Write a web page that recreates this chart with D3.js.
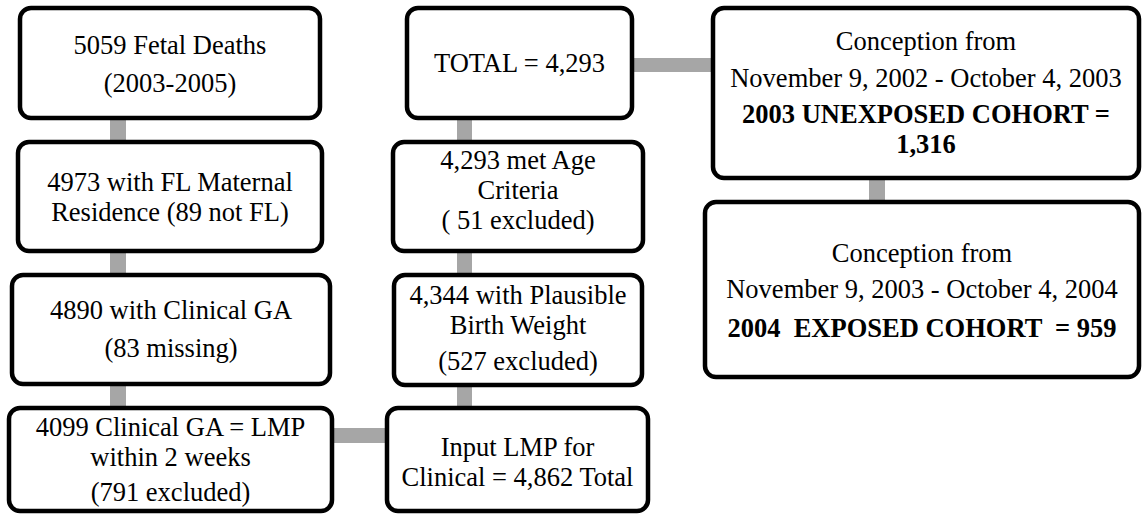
<!DOCTYPE html>
<meta charset="utf-8">
<style>
body { margin: 0; background: #fff; }
.box { fill: #fff; stroke: #000; stroke-width: 4.5px; }
.link { fill: #a6a6a6; }
text { font-family: "Liberation Serif", "Times New Roman", serif; font-size: 26.5px; fill: #000; white-space: pre; }
.bold { font-weight: bold; }
</style>
<body>
<script src="https://d3js.org/d3.v7.min.js"></script>
<script>

// box texts (one entry per line, "*" marks a bold line)
let fetalDeaths   = ["5059 Fetal Deaths", "(2003-2005)"];
let flResidence   = ["4973 with FL Maternal", "Residence (89 not FL)"];
let clinicalGA    = ["4890 with Clinical GA", "(83 missing)"];
let gaEqualsLmp   = ["4099 Clinical GA = LMP", "within 2 weeks", "(791 excluded)"];
let inputLmp      = ["Input LMP for", "Clinical = 4,862 Total"];
let birthWeight   = ["4,344 with Plausible", "Birth Weight", "(527 excluded)"];
let ageCriteria   = ["4,293 met Age", "Criteria", "( 51 excluded)"];
let totalCount    = ["TOTAL = 4,293"];
let unexposed     = ["Conception from", "November 9, 2002 - October 4, 2003", "*2003 UNEXPOSED COHORT =", "*1,316"];
let exposed       = ["Conception from", "November 9, 2003 - October 4, 2004", "*2004  EXPOSED COHORT  = 959"];

// layout: box rectangles and baseline offsets of each line
let layout = [
    {lines: fetalDeaths, x0: 20,  x1: 320, y0: 8,   y1: 118, base: [46, 84]},
    {lines: flResidence, x0: 18,  x1: 322, y0: 142, y1: 251, base: [49, 79]},
    {lines: clinicalGA,  x0: 12,  x1: 330, y0: 275, y1: 384, base: [44, 82]},
    {lines: gaEqualsLmp, x0: 9,   x1: 332, y0: 408, y1: 511, base: [28, 58, 93]},
    {lines: inputLmp,    x0: 387, x1: 648, y0: 408, y1: 511, base: [48, 78]},
    {lines: birthWeight, x0: 394, x1: 642, y0: 275, y1: 385, base: [29, 59, 95]},
    {lines: ageCriteria, x0: 393, x1: 643, y0: 142, y1: 251, base: [27, 57, 87]},
    {lines: totalCount,  x0: 407, x1: 632, y0: 8,   y1: 118, base: [64]},
    {lines: unexposed,   x0: 713, x1: 1139, y0: 8,  y1: 178, base: [42, 79, 115, 145]},
    {lines: exposed,     x0: 705, x1: 1139, y0: 202, y1: 377, base: [60, 96, 135]}
];

// grey connector bars [x0, y0, x1, y1]
let links = [
    [110, 118, 126, 142],
    [110, 251, 126, 275],
    [110, 384, 126, 408],
    [332, 428, 387, 443],
    [457, 385, 472, 408],
    [457, 251, 472, 275],
    [457, 118, 472, 142],
    [632, 58, 713, 72],
    [869, 178, 885, 202]
];

let width = 1142, height = 514;

let svg = d3.select("body").append("svg")
    .attr("width", width)
    .attr("height", height);

svg.selectAll("rect.link").data(links)
    .enter().append("rect")
    .attr("class", "link")
    .attr("x", d => d[0])
    .attr("y", d => d[1])
    .attr("width", d => d[2] - d[0])
    .attr("height", d => d[3] - d[1]);

let boxes = svg.selectAll("g.node").data(layout)
    .enter().append("g")
    .attr("class", "node");

boxes.append("rect")
    .attr("class", "box")
    .attr("x", d => d.x0)
    .attr("y", d => d.y0)
    .attr("width", d => d.x1 - d.x0)
    .attr("height", d => d.y1 - d.y0)
    .attr("rx", 11)
    .attr("ry", 11);

boxes.each(function (d) {
    let g = d3.select(this);
    d.lines.forEach(function (line, i) {
        let bold = line.charAt(0) === "*";
        g.append("text")
            .attr("class", bold ? "bold" : null)
            .attr("x", (d.x0 + d.x1) / 2)
            .attr("y", d.y0 + d.base[i])
            .attr("text-anchor", "middle")
            .text(bold ? line.slice(1) : line);
    });
});

</script>
</body>
